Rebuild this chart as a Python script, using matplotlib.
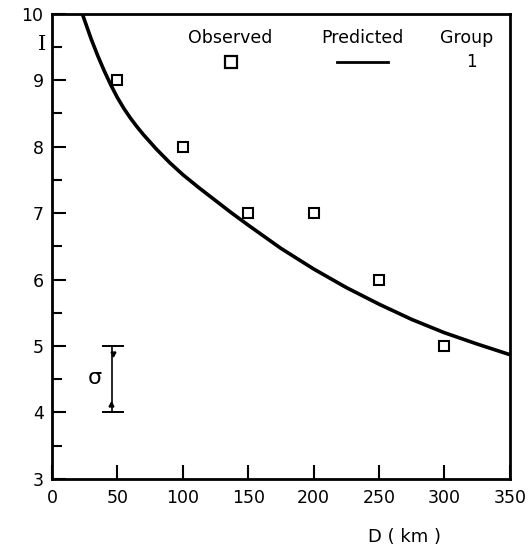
import matplotlib
matplotlib.use("Agg")
import matplotlib.pyplot as plt

# observed intensities (squares)
obs_d = [50, 100, 150, 200, 250, 300]
obs_i = [9.0, 8.0, 7.0, 7.0, 6.0, 5.0]

# predicted curve
pred_d = [22, 25, 30, 35, 40, 45, 50, 55, 60, 65, 70, 75, 80, 90, 100,
          112.5, 125, 137.5, 150, 175, 200, 225, 250, 275, 300, 325, 350]
pred_i = [10.07, 9.9, 9.62, 9.37, 9.14, 8.93, 8.74, 8.575, 8.43, 8.3, 8.18,
          8.07, 7.96, 7.76, 7.58, 7.38, 7.19, 7.0, 6.82, 6.47, 6.16, 5.88,
          5.63, 5.4, 5.2, 5.03, 4.87]

xticks = [0, 50, 100, 150, 200, 250, 300, 350]
yticks = [3, 4, 5, 6, 7, 8, 9, 10]

plt.rcParams['font.family'] = ['DejaVu Sans']

fig = plt.figure(figsize=(5.30, 5.53), dpi=100)
ax = fig.add_axes([0.098, 0.134, 0.864, 0.841])

ax.plot(pred_d, pred_i, color='black', lw=2.6, solid_joinstyle='round')
ax.plot(obs_d, obs_i, ls='none', marker='s', ms=7.5, mfc='white',
        mec='black', mew=1.5)

# legend drawn by hand like the original
ax.text(136, 9.63, 'Observed', ha='center', va='center', fontsize=12.5)
ax.text(237, 9.63, 'Predicted', ha='center', va='center', fontsize=12.5)
ax.text(317, 9.63, 'Group', ha='center', va='center', fontsize=12.5)
ax.plot([137], [9.27], ls='none', marker='s', ms=9, mfc='white',
        mec='black', mew=1.6)
ax.plot([218, 257], [9.28, 9.28], color='black', lw=2)
ax.text(321, 9.28, '1', ha='center', va='center', fontsize=12)

# sigma bar
ax.plot([46, 46], [4.0, 5.0], color='black', lw=1.2)
ax.plot([39, 54.5], [5.0, 5.0], color='black', lw=1.4)
ax.plot([39, 54.5], [4.0, 4.0], color='black', lw=1.4)
ax.plot([46.6], [4.88], marker='v', ms=3.5, color='black', ls='none')
ax.plot([45.4], [4.12], marker='^', ms=3.5, color='black', ls='none')
ax.text(33, 4.52, 'σ', ha='center', va='center', fontsize=16)

ax.set_xlim(0, 350)
ax.set_ylim(3, 10)
ax.set_xticks(xticks)
ax.set_yticks(yticks)
ax.set_yticks([3.5, 4.5, 5.5, 6.5, 7.5, 8.5, 9.5], minor=True)
ax.tick_params(axis='both', which='major', direction='in', length=10,
               width=1.5, labelsize=12.5, pad=6)
ax.tick_params(axis='y', which='minor', direction='in', length=7, width=1.5)
ax.tick_params(axis='x', pad=7)
for s in ax.spines.values():
    s.set_linewidth(2)

fig.text(42 / 530, 1 - 45 / 553, 'I', family='DejaVu Serif', fontsize=15,
         ha='center', va='center')
fig.text(405 / 530, 1 - 537 / 553, 'D ( km )', fontsize=13,
         ha='center', va='center')

fig.savefig('out.png', dpi=100)
